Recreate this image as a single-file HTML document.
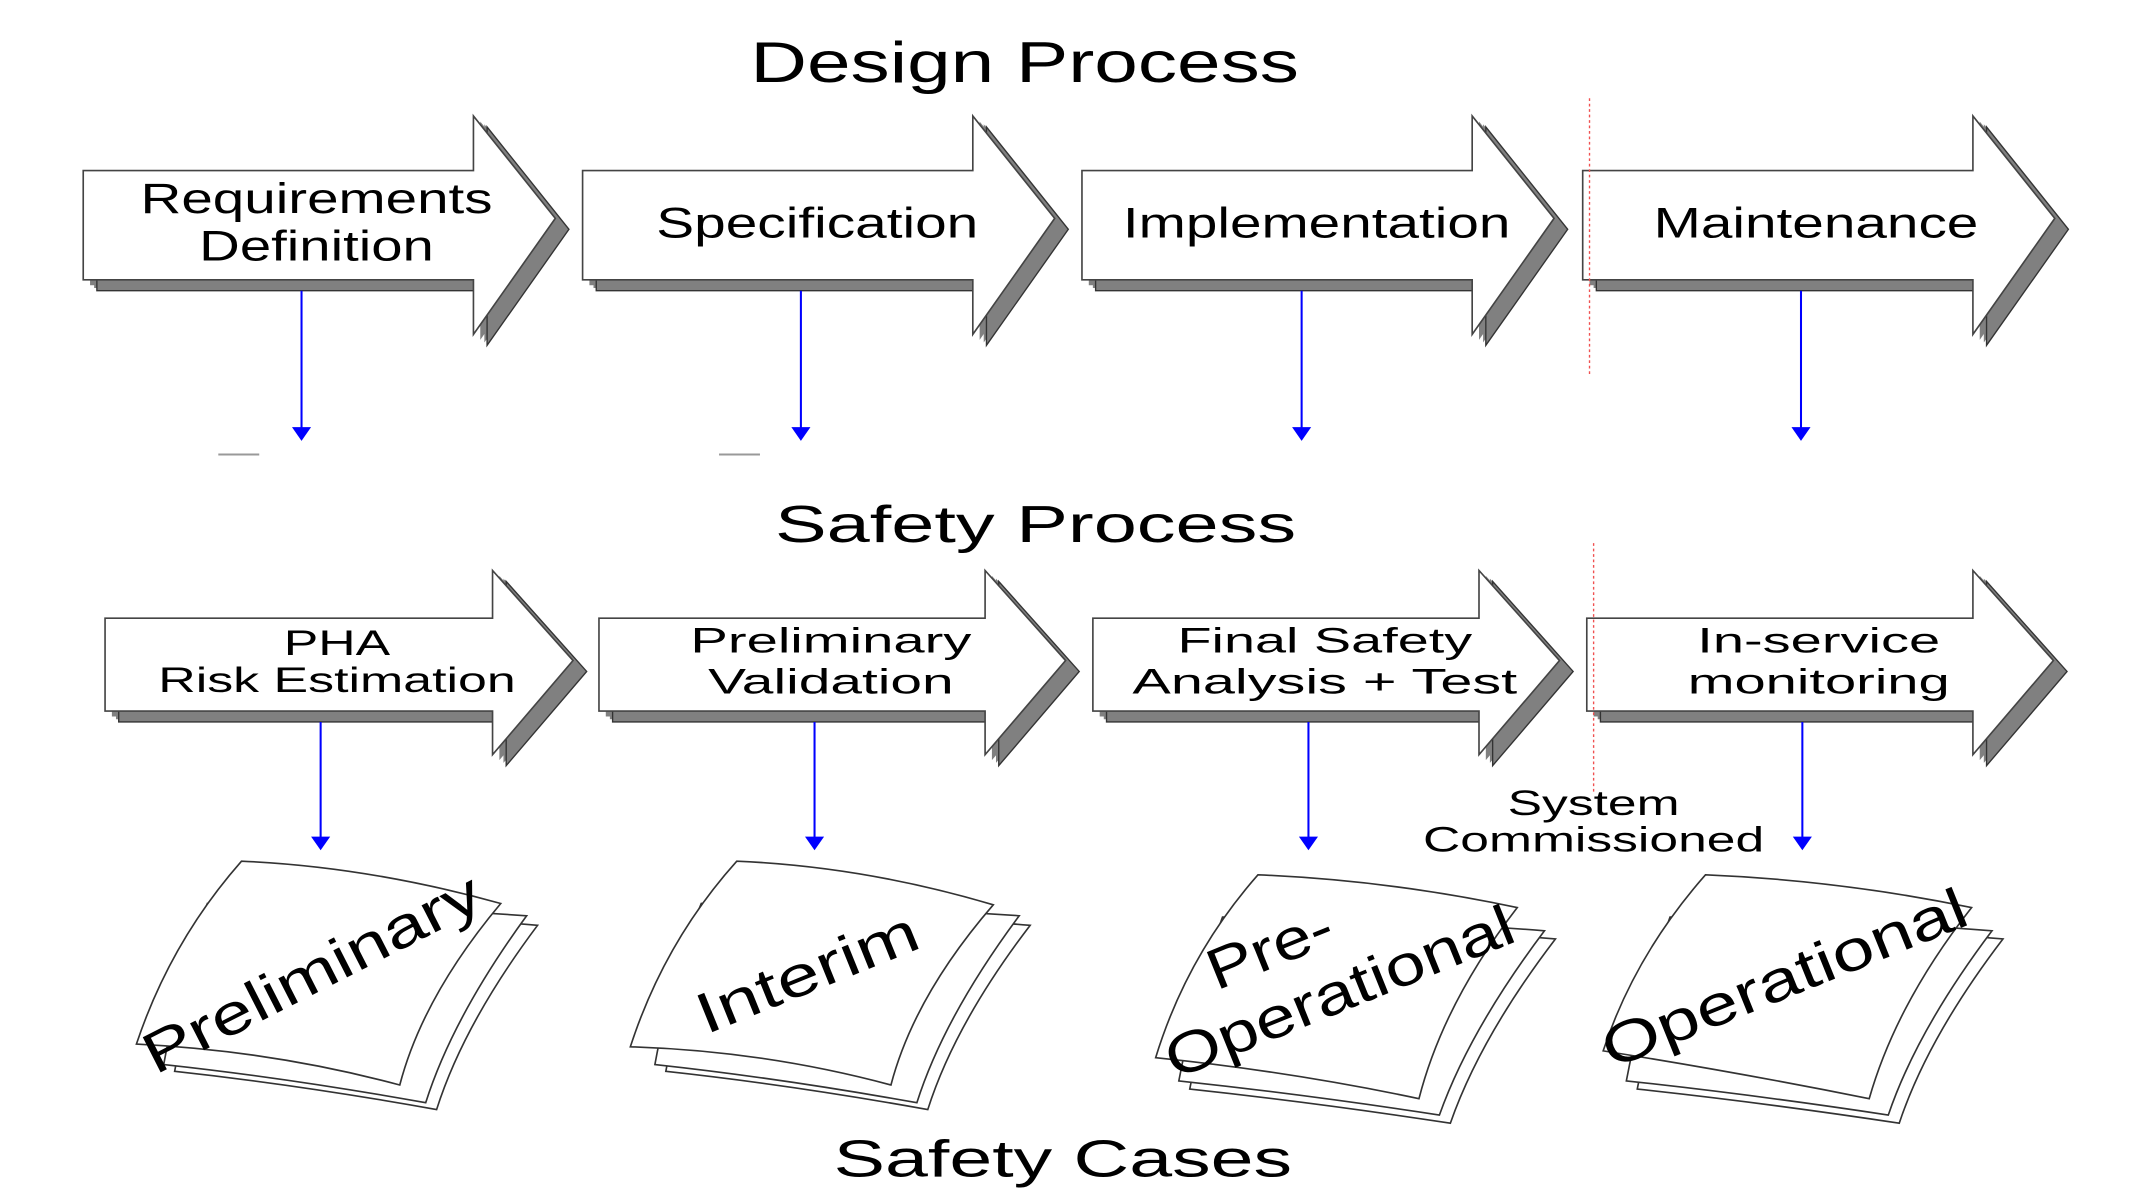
<!DOCTYPE html>
<html><head><meta charset="utf-8"><style>
html,body{margin:0;padding:0;background:#fff;}
svg{display:block;}
text{font-family:"Liberation Sans",Arial,sans-serif;fill:#000;}
</style></head><body>
<svg width="2138" height="1201" viewBox="0 0 1567 880" preserveAspectRatio="none" xmlns="http://www.w3.org/2000/svg">
<defs>
<polygon id="a1" points="61,125 347,125 347,85 407,160 347,245 347,205 61,205"/>
<polygon id="a2" points="427,125 713,125 713,85 773,160 713,245 713,205 427,205"/>
<polygon id="a3" points="793,125 1079,125 1079,85 1139,160 1079,245 1079,205 793,205"/>
<polygon id="a4" points="1160,125 1446,125 1446,85 1506,160 1446,245 1446,205 1160,205"/>
<polygon id="b1" points="77,453 361,453 361,418 420,484 361,553 361,521 77,521"/>
<polygon id="b2" points="439,453 722,453 722,418 781,484 722,553 722,521 439,521"/>
<polygon id="b3" points="801,453 1084,453 1084,418 1143,484 1084,553 1084,521 801,521"/>
<polygon id="b4" points="1163,453 1446,453 1446,418 1505,484 1446,553 1446,521 1163,521"/>
</defs>

<text x="751" y="60" font-size="42" text-anchor="middle" textLength="402" lengthAdjust="spacingAndGlyphs">Design Process</text>
<text x="759" y="397" font-size="38" text-anchor="middle" textLength="382" lengthAdjust="spacingAndGlyphs">Safety Process</text>
<text x="779" y="862" font-size="38" text-anchor="middle" textLength="336" lengthAdjust="spacingAndGlyphs">Safety Cases</text>

<g fill="#808080" stroke="none">
<use href="#a1" transform="translate(5,4)"/><use href="#a1" transform="translate(8,6)"/>
<use href="#a2" transform="translate(5,4)"/><use href="#a2" transform="translate(8,6)"/>
<use href="#a3" transform="translate(5,4)"/><use href="#a3" transform="translate(8,6)"/>
<use href="#a4" transform="translate(5,4)"/><use href="#a4" transform="translate(8,6)"/>
<use href="#b1" transform="translate(5,4)"/><use href="#b1" transform="translate(8,6)"/>
<use href="#b2" transform="translate(5,4)"/><use href="#b2" transform="translate(8,6)"/>
<use href="#b3" transform="translate(5,4)"/><use href="#b3" transform="translate(8,6)"/>
<use href="#b4" transform="translate(5,4)"/><use href="#b4" transform="translate(8,6)"/>
</g>
<g fill="#808080" stroke="#333" stroke-width="1">
<use href="#a1" transform="translate(10,8)"/><use href="#a2" transform="translate(10,8)"/><use href="#a3" transform="translate(10,8)"/><use href="#a4" transform="translate(10,8)"/>
<use href="#b1" transform="translate(10,8)"/><use href="#b2" transform="translate(10,8)"/><use href="#b3" transform="translate(10,8)"/><use href="#b4" transform="translate(10,8)"/>
</g>
<g fill="#fff" stroke="#444" stroke-width="1.2">
<use href="#a1"/><use href="#a2"/><use href="#a3"/><use href="#a4"/>
<use href="#b1"/><use href="#b2"/><use href="#b3"/><use href="#b4"/>
</g>

<g font-size="31" text-anchor="middle">
<text x="232" y="156" textLength="258" lengthAdjust="spacingAndGlyphs">Requirements</text>
<text x="232" y="191" textLength="172" lengthAdjust="spacingAndGlyphs">Definition</text>
<text x="599" y="174" textLength="236" lengthAdjust="spacingAndGlyphs">Specification</text>
<text x="965" y="174" textLength="284" lengthAdjust="spacingAndGlyphs">Implementation</text>
<text x="1331" y="174" textLength="238" lengthAdjust="spacingAndGlyphs">Maintenance</text>
</g>
<g font-size="26" text-anchor="middle">
<text x="247" y="480" textLength="78" lengthAdjust="spacingAndGlyphs">PHA</text>
<text x="247" y="507" textLength="262" lengthAdjust="spacingAndGlyphs">Risk Estimation</text>
<text x="609" y="478" textLength="206" lengthAdjust="spacingAndGlyphs">Preliminary</text>
<text x="609" y="508" textLength="180" lengthAdjust="spacingAndGlyphs">Validation</text>
<text x="971" y="478" textLength="216" lengthAdjust="spacingAndGlyphs">Final Safety</text>
<text x="971" y="508" textLength="282" lengthAdjust="spacingAndGlyphs">Analysis + Test</text>
<text x="1333" y="478" textLength="178" lengthAdjust="spacingAndGlyphs">In-service</text>
<text x="1333" y="508" textLength="192" lengthAdjust="spacingAndGlyphs">monitoring</text>
<text x="1168" y="597" textLength="126" lengthAdjust="spacingAndGlyphs">System</text>
<text x="1168" y="624" textLength="250" lengthAdjust="spacingAndGlyphs">Commissioned</text>
</g>

<g stroke="#f05050" stroke-width="1" stroke-dasharray="2,2">
<line x1="1165" y1="72" x2="1165" y2="275"/>
<line x1="1168" y1="398" x2="1168" y2="580"/>
</g>

<g stroke="#0000ff" stroke-width="1.5">
<line x1="221" y1="213" x2="221" y2="316"/><line x1="587" y1="213" x2="587" y2="316"/>
<line x1="954" y1="213" x2="954" y2="316"/><line x1="1320" y1="213" x2="1320" y2="316"/>
<line x1="235" y1="529" x2="235" y2="616"/><line x1="597" y1="529" x2="597" y2="616"/>
<line x1="959" y1="529" x2="959" y2="616"/><line x1="1321" y1="529" x2="1321" y2="616"/>
</g>
<g fill="#0000ff">
<polygon points="214,313 228,313 221,323"/><polygon points="580,313 594,313 587,323"/>
<polygon points="947,313 961,313 954,323"/><polygon points="1313,313 1327,313 1320,323"/>
<polygon points="228,613 242,613 235,623"/><polygon points="590,613 604,613 597,623"/>
<polygon points="952,613 966,613 959,623"/><polygon points="1314,613 1328,613 1321,623"/>
</g>
<g stroke="#999" stroke-width="1.5"><line x1="160" y1="333" x2="190" y2="333"/><line x1="527" y1="333" x2="557" y2="333"/></g>

<g fill="#fff" stroke="#333" stroke-width="1.2">
<path d="M160,668 Q260,667 394,678 Q340,750 320,813 Q220,795 128,785 Q140,720 160,668 Z"/>
<path d="M152,662 Q252,662 386,671 Q332,745 312,808 Q212,790 120,780 Q132,714 152,662 Z"/>
<path d="M177,631 Q270,635 367,662 Q310,730 293,795 Q200,770 100,765 Q125,690 177,631 Z"/>

<path d="M522,668 Q622,667 755,678 Q700,750 680,813 Q580,795 488,785 Q500,720 522,668 Z"/>
<path d="M514,662 Q614,662 747,671 Q692,745 672,808 Q572,790 480,780 Q492,714 514,662 Z"/>
<path d="M540,631 Q634,635 728,663 Q670,730 653,795 Q560,770 462,767 Q487,690 540,631 Z"/>

<path d="M904,678 Q1010,677 1140,688 Q1085,760 1063,823 Q965,808 872,798 Q885,730 904,678 Z"/>
<path d="M896,672 Q1002,672 1132,682 Q1077,755 1055,817 Q957,802 864,792 Q877,724 896,672 Z"/>
<path d="M922,641 Q1018,645 1112,665 Q1058,735 1040,805 Q945,785 847,775 Q870,700 922,641 Z"/>

<path d="M1232,678 Q1338,677 1468,688 Q1413,760 1392,823 Q1293,808 1200,798 Q1213,730 1232,678 Z"/>
<path d="M1224,672 Q1330,672 1460,682 Q1405,755 1384,817 Q1285,802 1192,792 Q1205,724 1224,672 Z"/>
<path d="M1250,641 Q1348,645 1445,665 Q1390,735 1370,805 Q1270,785 1175,770 Q1198,700 1250,641 Z"/>
</g>
<g font-size="42">
<text transform="translate(235,726) rotate(-27)" text-anchor="middle" textLength="272" lengthAdjust="spacingAndGlyphs">Preliminary</text>
<text transform="translate(597,726) rotate(-22)" text-anchor="middle" textLength="172" lengthAdjust="spacingAndGlyphs">Interim</text>
<text transform="translate(936,708) rotate(-22)" text-anchor="middle" textLength="96" lengthAdjust="spacingAndGlyphs">Pre-</text>
<text transform="translate(987,740) rotate(-22)" text-anchor="middle" textLength="272" lengthAdjust="spacingAndGlyphs">Operational</text>
<text transform="translate(1313,730) rotate(-22)" text-anchor="middle" textLength="285" lengthAdjust="spacingAndGlyphs">Operational</text>
</g>
</svg>
</body></html>
